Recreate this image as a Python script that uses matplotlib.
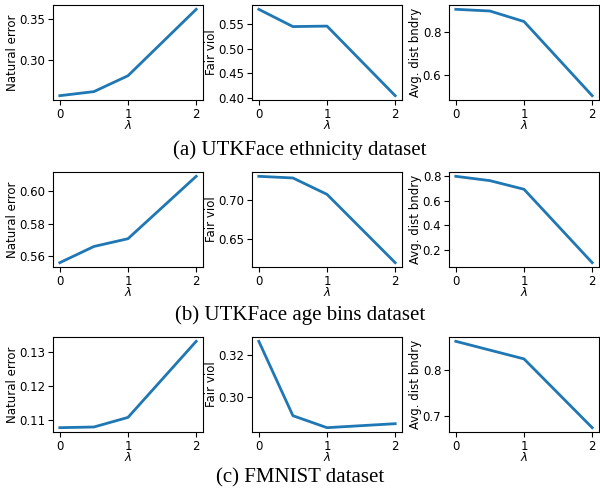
import numpy as np
import matplotlib.pyplot as plt

lam = [0, 0.5, 1, 2]

# UTKFace ethnicity
eth_err = [0.256, 0.261, 0.2805, 0.362]
eth_fair = [0.580, 0.545, 0.546, 0.405]
eth_dist = [0.910, 0.902, 0.852, 0.500]

# UTKFace age bins
age_err = [0.556, 0.566, 0.5708, 0.6093]
age_fair = [0.7296, 0.7275, 0.7067, 0.620]
age_dist = [0.797, 0.762, 0.692, 0.097]

# FMNIST
fm_err = [0.1079, 0.1081, 0.1109, 0.1331]
fm_fair = [0.3266, 0.2912, 0.2855, 0.2874]
fm_dist = [0.8626, 0.8435, 0.8244, 0.675]

ylabels = ['Natural error', 'Fair viol', 'Avg. dist bndry']
captions = ['(a) UTKFace ethnicity dataset',
            '(b) UTKFace age bins dataset',
            '(c) FMNIST dataset']
rows = [[eth_err, eth_fair, eth_dist],
        [age_err, age_fair, age_dist],
        [fm_err, fm_fair, fm_dist]]

W, H = 600, 490
fig = plt.figure(figsize=(W / 100, H / 100), dpi=100)

col_left = [53, 252, 449]
row_top = [5, 172, 337]
ax_w, ax_h = 150, 95
cap_y = [150, 315, 478]

yticks = [
    [[0.30, 0.35], [0.40, 0.45, 0.50, 0.55], [0.6, 0.8]],
    [[0.56, 0.58, 0.60], [0.65, 0.70], [0.2, 0.4, 0.6, 0.8]],
    [[0.11, 0.12, 0.13], [0.30, 0.32], [0.7, 0.8]],
]

fs = 8.5
for r in range(3):
    for c in range(3):
        ax = fig.add_axes([col_left[c] / W, 1 - (row_top[r] + ax_h) / H,
                           ax_w / W, ax_h / H])
        ax.plot(lam, rows[r][c], color='tab:blue', lw=2)
        ax.set_xticks([0, 1, 2])
        ax.set_yticks(yticks[r][c])
        ax.set_xlabel(r'$\lambda$', fontsize=fs, labelpad=-1)
        ax.set_ylabel(ylabels[c], fontsize=fs, labelpad=0.5)
        ax.tick_params(labelsize=fs, pad=2)
    fig.text(0.5, 1 - cap_y[r] / H, captions[r], ha='center', va='center',
             fontsize=15, family='Liberation Serif')

fig.savefig('out.png', dpi=100)
